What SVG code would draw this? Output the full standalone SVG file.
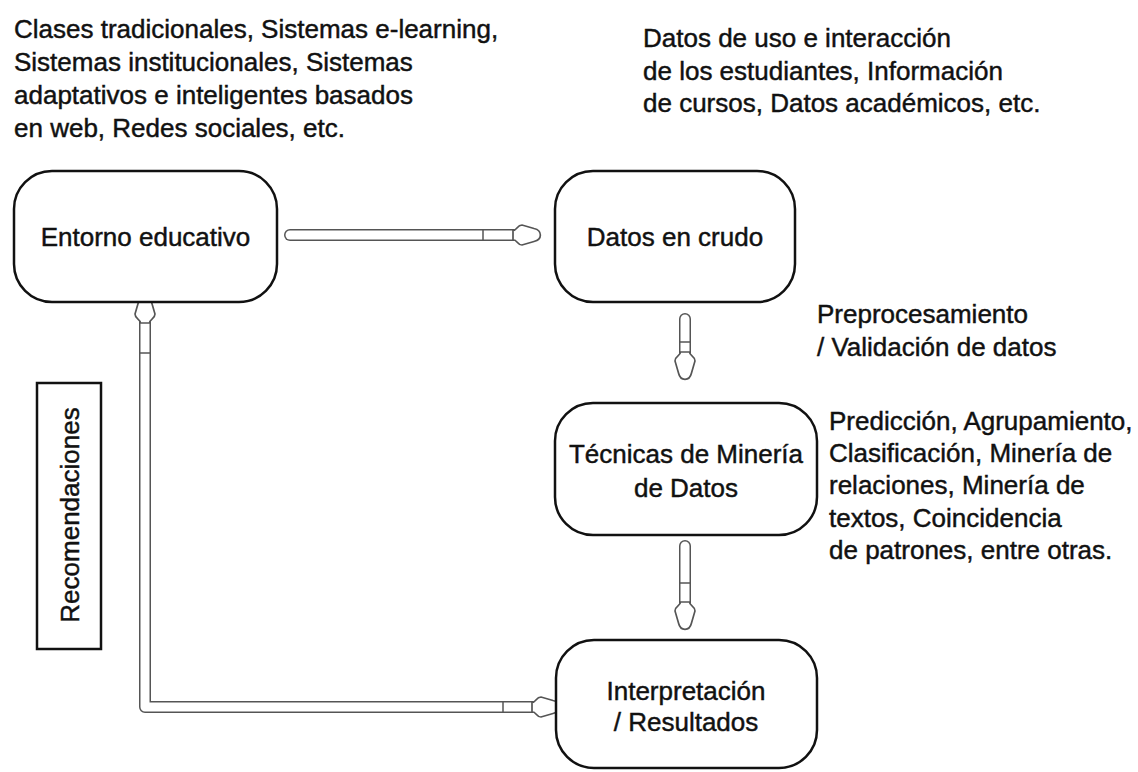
<svg xmlns="http://www.w3.org/2000/svg" width="1138" height="772" viewBox="0 0 1138 772">
<defs>
<style>
.t{font-family:"Liberation Sans",Arial,Helvetica,sans-serif;font-size:26px;fill:#111;stroke:#111;stroke-width:0.45}
.c{text-anchor:middle}
.box{fill:#fff;stroke:#111;stroke-width:2.5}
.tubeO{fill:none;stroke:#555;stroke-width:12;stroke-linecap:round;stroke-linejoin:round}
.tubeI{fill:none;stroke:#fff;stroke-width:9;stroke-linecap:round;stroke-linejoin:round}
.div{stroke:#555;stroke-width:1.5}
.head{fill:#fff;stroke:#555;stroke-width:1.7}
</style>
<path id="hd" class="head" d="M-1,-4.5 C3,-4.5 3,-10 8,-10 L20,-6.5 C28.5,-4.5 28.5,4.5 20,6.5 L8,10 C3,10 3,4.5 -1,4.5 Z"/>
</defs>
<rect width="1138" height="772" fill="#fff"/>

<g id="labels">
<text class="t" x="14" y="38">Clases tradicionales, Sistemas e-learning,</text>
<text class="t" x="14" y="71">Sistemas institucionales, Sistemas</text>
<text class="t" x="14" y="104">adaptativos e inteligentes basados</text>
<text class="t" x="14" y="137">en web, Redes sociales, etc.</text>
<text class="t" x="643" y="47">Datos de uso e interacción</text>
<text class="t" x="643" y="80">de los estudiantes, Información</text>
<text class="t" x="643" y="112">de cursos, Datos académicos, etc.</text>
<text class="t" x="817" y="323">Preprocesamiento</text>
<text class="t" x="817" y="356">/ Validación de datos</text>
<text class="t" x="829" y="430">Predicción, Agrupamiento,</text>
<text class="t" x="829" y="462">Clasificación, Minería de</text>
<text class="t" x="829" y="494">relaciones, Minería de</text>
<text class="t" x="829" y="527">textos, Coincidencia</text>
<text class="t" x="829" y="559">de patrones, entre otras.</text>
</g>

<g id="connectors">
<g id="c1">
<line class="tubeO" x1="290" y1="235" x2="514" y2="235"/>
<line class="tubeI" x1="290" y1="235" x2="514" y2="235"/>
<line class="div" x1="483" y1="230" x2="483" y2="240"/>
<use href="#hd" transform="translate(514,235)"/>
</g>
<g id="c2">
<line class="tubeO" x1="685" y1="319" x2="685" y2="353"/>
<line class="tubeI" x1="685" y1="319" x2="685" y2="353"/>
<line class="div" x1="680" y1="342" x2="690" y2="342"/>
<use href="#hd" transform="translate(685,353) rotate(90)"/>
</g>
<g id="c3">
<line class="tubeO" x1="685" y1="546" x2="685" y2="603"/>
<line class="tubeI" x1="685" y1="546" x2="685" y2="603"/>
<line class="div" x1="680" y1="583" x2="690" y2="583"/>
<use href="#hd" transform="translate(685,603) rotate(90)"/>
</g>
<g id="c4">
<path class="tubeO" d="M145,322 L145,707 L533,707"/>
<path class="tubeI" d="M145,322 L145,707 L533,707"/>
<line class="div" x1="140" y1="353" x2="150" y2="353"/>
<line class="div" x1="503" y1="702" x2="503" y2="712"/>
<use href="#hd" transform="translate(145,322) rotate(-90)"/>
<use href="#hd" transform="translate(533,707)"/>
</g>
</g>

<g id="n-entorno">
<rect class="box" x="14" y="171" width="263" height="131" rx="38"/>
<text class="t c" x="145.5" y="246">Entorno educativo</text>
</g>
<g id="n-datos">
<rect class="box" x="555" y="171" width="240" height="131" rx="38"/>
<text class="t c" x="675" y="246">Datos en crudo</text>
</g>
<g id="n-tecnicas">
<rect class="box" x="555" y="403" width="262" height="132" rx="38"/>
<text class="t c" x="686" y="463">Técnicas de Minería</text>
<text class="t c" x="686" y="497">de Datos</text>
</g>
<g id="n-interp">
<rect class="box" x="556" y="640" width="261" height="128" rx="38"/>
<text class="t c" x="686" y="700">Interpretación</text>
<text class="t c" x="686" y="731">/ Resultados</text>
</g>
<g id="n-recom">
<rect x="37" y="383" width="64" height="266" fill="#fff" stroke="#111" stroke-width="2.5"/>
<text class="t c" transform="translate(79,515) rotate(-90)">Recomendaciones</text>
</g>
</svg>
